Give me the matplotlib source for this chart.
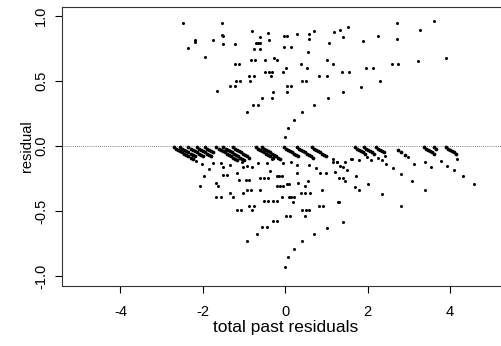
import matplotlib
matplotlib.use("Agg")
import matplotlib.pyplot as plt

# ---- data ----
# positive residuals
pos_x = [-2.49, -1.54, -2.37, -2.18, -2.18, -1.95, -1.76, -1.53, -1.52, -1.51, -1.65,
         -1.22, -1.23, -1.13, -1.20, -1.09, -1.33, -1.23, -0.86, -0.87, -0.76, -0.80,
         -0.77, -0.61, -0.83, -0.74, -0.49, -0.71, -0.66, -0.61, -0.61, -0.42, -0.40,
         -0.27, -0.21, -0.50, -0.40, -0.32, -0.35, -0.30, -0.32, -0.57, -0.78, -0.66,
         -0.93, -0.06, 0.01, -0.03, 0.03, -0.02, 0.15, 0.03, 0.13, 0.04, 0.28, 0.57,
         0.57, 0.56, 0.38, 0.52, 0.41, 0.50, 0.83, 1.01, 0.41, 0.21, 0.06, -0.01,
         0.70, 1.06, 1.02, 1.15, 1.19, 1.33, 1.52, 1.41, 1.38, 1.55, 1.40, 1.03, 0.70,
         1.88, 1.96, 2.14, 1.84, 2.30, 2.26, 2.58, 2.74, 2.71, 2.70, 3.21, 3.28, 3.61,
         3.89]
pos_y = [0.949, 0.949, 0.751, 0.815, 0.803, 0.685, 0.815, 0.856, 0.846, 0.787, 0.423,
         0.787, 0.631, 0.631, 0.500, 0.500, 0.462, 0.462, 0.500, 0.536, 0.536, 0.885,
         0.746, 0.746, 0.659, 0.659, 0.659, 0.795, 0.795, 0.795, 0.836, 0.869, 0.813,
         0.679, 0.659, 0.572, 0.572, 0.572, 0.536, 0.415, 0.367, 0.367, 0.318, 0.318,
         0.262, 0.572, 0.597, 0.849, 0.849, 0.764, 0.764, 0.462, 0.462, 0.415, 0.859,
         0.859, 0.821, 0.726, 0.631, 0.597, 0.500, 0.500, 0.536, 0.536, 0.262, 0.200,
         0.138, 0.069, 0.885, 0.795, 0.659, 0.631, 0.877, 0.892, 0.913, 0.836, 0.569,
         0.569, 0.415, 0.367, 0.315, 0.810, 0.597, 0.597, 0.456, 0.497, 0.849, 0.631,
         0.631, 0.946, 0.823, 0.654, 0.890, 0.962, 0.679]

# negative residuals, scattered points
neg_x = [-2.17, -2.01, -1.85, -1.97, -2.06, -1.76, -1.55, -1.52, -1.67, -1.63, -1.69,
         -1.57, -1.52, -1.42, -1.33, -1.26, -1.18, -1.12, -1.18, -1.08, -1.02, -0.96,
         -0.89, -1.02, -0.92, -0.83, -0.87, -0.76, -0.80, -0.94, -0.61, -0.52, -0.41,
         -0.37, -0.61, -0.52, -0.41, -0.31, -0.21, -0.45, -0.56, -0.68, -0.29, -0.19,
         -0.21, -0.15, -0.08, -0.19, -0.13, -0.06, 0.03, 0.10, -0.09, 0.09, 0.15, 0.22,
         0.19, 0.32, 0.28, 0.48, 0.56, 0.37, 0.48, 0.60, 0.40, 0.50, 0.58, 0.48, 0.02,
         0.11, 0.41, 0.22, 0.06, -0.01, 0.74, 0.84, 1.00, 0.88, 0.83, 0.92, 1.29, 1.41,
         1.02, 0.70, 1.15, 1.15, 1.26, 1.33, 1.41, 1.44, 1.50, 1.61, 1.20, 1.30, 1.39,
         1.46, 1.72, 1.69, 1.79, 2.00, 2.35, 2.61, 2.81, 2.81, 1.30, 2.44, 1.99, 2.09,
         2.26, 2.34, 2.42, 3.12, 3.38, 3.54, 3.78, 3.92, 4.09, 4.31, 4.59, 3.07, 3.39,
         4.18, 2.99, -0.66, -0.45, -0.32, -0.06, 0.13, 0.29, 0.58, -0.94, -0.82, -1.34,
         -1.06, 1.59, 1.80, 1.25]
neg_y = [-0.113, -0.136, -0.179, -0.231, -0.305, -0.133, -0.128, -0.159, -0.287, -0.308,
         -0.390, -0.390, -0.223, -0.223, -0.359, -0.390, -0.210, -0.262, -0.492, -0.492,
         -0.159, -0.262, -0.262, -0.359, -0.338, -0.338, -0.459, -0.459, -0.492, -0.728,
         -0.249, -0.249, -0.249, -0.190, -0.338, -0.423, -0.423, -0.423, -0.423, -0.626,
         -0.626, -0.677, -0.577, -0.577, -0.231, -0.231, -0.231, -0.305, -0.305, -0.305,
         -0.292, -0.292, -0.395, -0.395, -0.395, -0.395, -0.428, -0.287, -0.210, -0.308,
         -0.267, -0.364, -0.364, -0.364, -0.492, -0.492, -0.492, -0.538, -0.538, -0.538,
         -0.733, -0.792, -0.856, -0.928, -0.172, -0.210, -0.210, -0.338, -0.462, -0.462,
         -0.428, -0.582, -0.631, -0.679, -0.100, -0.126, -0.126, -0.151, -0.159, -0.126,
         -0.185, -0.100, -0.202, -0.246, -0.246, -0.267, -0.233, -0.313, -0.338, -0.292,
         -0.369, -0.172, -0.215, -0.459, -0.428, -0.138, -0.087, -0.108, -0.090, -0.108,
         -0.080, -0.138, -0.126, -0.159, -0.118, -0.151, -0.185, -0.233, -0.295, -0.267,
         -0.338, -0.100, -0.087, -0.133, -0.133, -0.103, -0.128, -0.120, -0.146, -0.146,
         -0.154, -0.159, -0.146, -0.120, -0.100, -0.108, -0.120]

# negative residuals forming the dense diagonal runs just below zero
run_x = [-2.70, -2.65, -2.60, -2.55, -2.50, -2.45, -2.40, -2.35, -2.30, -2.25,
         -2.55, -2.50, -2.45, -2.40, -2.35, -2.30, -2.25, -2.20,
         -2.35, -2.30, -2.25, -2.20, -2.15, -2.10, -2.05, -2.00,
         -2.15, -2.10, -2.05, -2.00, -1.95, -1.90, -1.85, -1.80,
         -1.95, -1.90, -1.85, -1.80, -1.75,
         -1.67, -1.62, -1.57, -1.52, -1.47, -1.42, -1.37, -1.32, -1.27, -1.22, -1.17,
         -1.50, -1.45, -1.40, -1.35, -1.30, -1.25, -1.20, -1.15, -1.10, -1.05, -1.00,
         -1.27, -1.22, -1.17, -1.12, -1.07, -1.02, -0.97, -0.92, -0.87,
         -0.71, -0.66, -0.61, -0.56, -0.51, -0.46, -0.41, -0.36, -0.31,
         -0.57, -0.52, -0.47, -0.42, -0.37, -0.32, -0.27, -0.22, -0.17, -0.12,
         -0.03, 0.02, 0.07, 0.12, 0.17, 0.22, 0.27, 0.32,
         0.28, 0.33, 0.38, 0.43, 0.48, 0.53, 0.58, 0.63, 0.68,
         0.64, 0.69, 0.74, 0.79, 0.84, 0.89, 0.94, 0.99,
         1.69, 1.74, 1.79, 1.84, 1.89, 1.94,
         1.90, 1.95, 2.00, 2.05, 2.10, 2.15,
         2.20, 2.25, 2.30, 2.35, 2.40,
         2.74, 2.82, 2.90,
         3.37, 3.42, 3.47, 3.52, 3.57, 3.62,
         3.61, 3.66,
         3.89, 3.94, 3.99, 4.04, 4.09, 4.14]
run_y = [-0.01, -0.02, -0.03, -0.04, -0.05, -0.06, -0.07, -0.08, -0.09, -0.10,
         -0.01, -0.02, -0.03, -0.04, -0.05, -0.06, -0.07, -0.08,
         -0.01, -0.02, -0.03, -0.04, -0.05, -0.06, -0.07, -0.08,
         -0.01, -0.02, -0.03, -0.04, -0.05, -0.06, -0.07, -0.08,
         -0.01, -0.02, -0.03, -0.04, -0.05,
         -0.01, -0.02, -0.03, -0.04, -0.05, -0.06, -0.07, -0.08, -0.09, -0.10, -0.11,
         -0.01, -0.02, -0.03, -0.04, -0.05, -0.06, -0.07, -0.08, -0.09, -0.10, -0.11,
         -0.01, -0.02, -0.03, -0.04, -0.05, -0.06, -0.07, -0.08, -0.09,
         -0.01, -0.02, -0.03, -0.04, -0.05, -0.06, -0.07, -0.08, -0.09,
         -0.01, -0.02, -0.03, -0.04, -0.05, -0.06, -0.07, -0.08, -0.09, -0.10,
         -0.01, -0.02, -0.03, -0.04, -0.05, -0.06, -0.07, -0.08,
         -0.01, -0.02, -0.03, -0.04, -0.05, -0.06, -0.07, -0.08, -0.09,
         -0.01, -0.02, -0.03, -0.04, -0.05, -0.06, -0.07, -0.08,
         -0.01, -0.02, -0.03, -0.04, -0.05, -0.06,
         -0.01, -0.02, -0.03, -0.04, -0.05, -0.06,
         -0.01, -0.02, -0.03, -0.04, -0.05,
         -0.03, -0.05, -0.07,
         -0.01, -0.02, -0.03, -0.04, -0.05, -0.06,
         -0.01, -0.02,
         -0.01, -0.02, -0.03, -0.04, -0.05, -0.06]

x_ticks = [-4, -2, 0, 2, 4]
y_ticks = [-1.0, -0.5, 0.0, 0.5, 1.0]
y_ticklabels = ["-1.0", "-0.5", "0.0", "0.5", "1.0"]

plt.rcParams['font.family'] = ['Liberation Sans', 'DejaVu Sans']

fig = plt.figure(figsize=(5.02, 3.46), dpi=100)
ax = fig.add_axes([0.1235, 0.1734, 0.8896, 0.8064])

ax.axhline(0, color='#555555', lw=0.6, ls=(0, (1, 1.5)), zorder=1)
mk = dict(ls='none', marker='o', mfc='black', mec='black', mew=0, zorder=3)
ax.plot(pos_x, pos_y, ms=2.2, **mk)
ax.plot(neg_x, neg_y, ms=2.2, **mk)
ax.plot(run_x, run_y, ms=2.7, **mk)

ax.set_xlim(-5.42, 5.42)
ax.set_ylim(-1.077, 1.069)
ax.set_xticks(x_ticks)
ax.set_xticklabels([str(t) for t in x_ticks])
ax.set_yticks(y_ticks)
ax.set_yticklabels(y_ticklabels, rotation=90, va='center')
ax.tick_params(direction='out', length=5, width=0.8, colors='black', labelsize=10.5)
ax.tick_params(axis='x', pad=9)
ax.tick_params(axis='y', pad=5)
for s in ax.spines.values():
    s.set_linewidth(0.8)
    s.set_color('#333333')
ax.set_xlabel('total past residuals', fontsize=12.5, labelpad=0.5)
ax.set_ylabel('residual', fontsize=10.5, labelpad=0)

fig.savefig('out.png', dpi=100)
